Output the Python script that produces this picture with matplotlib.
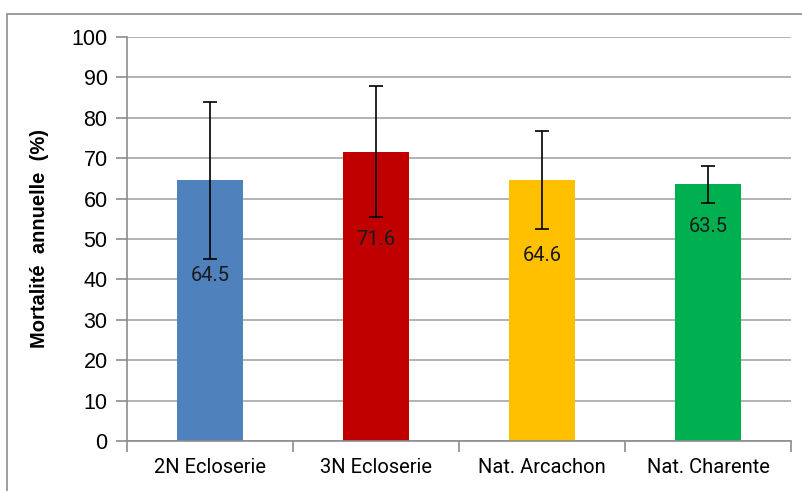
import matplotlib.pyplot as plt
from matplotlib.patches import Rectangle

# Values
categories = ["2N Ecloserie", "3N Ecloserie", "Nat. Arcachon", "Nat. Charente"]
mortality = [64.5, 71.6, 64.6, 63.5]
errors = [19.4, 16.2, 12.1, 4.6]
colors = ["#4f81bd", "#c00000", "#ffc000", "#00b050"]
label_pos = [41.0, 49.8, 46.0, 53.1]  # where the value labels sit

fig = plt.figure(figsize=(8.02, 4.91), dpi=100)
ax = fig.add_axes([127 / 802, 50 / 491, 664 / 802, 404 / 491])

# thin frame around the chart area
fig.patches.append(Rectangle((7 / 802, -0.1), 1.2, 0.1 + (491 - 14) / 491,
                             transform=fig.transFigure, fill=False,
                             edgecolor="#8c8c8c", linewidth=1.2))

x = range(len(categories))
ax.bar(x, mortality, width=0.4, color=colors, zorder=2)
ax.errorbar(x, mortality, yerr=errors, fmt="none", ecolor="black",
            elinewidth=1.2, capsize=5, capthick=1.2, zorder=3)

for i, (v, yp) in enumerate(zip(mortality, label_pos)):
    ax.text(i, yp, f"{v:.1f}", ha="center", va="center", fontsize=14.5,
            family="Roboto", color="#1a1a1a", zorder=4)

ax.set_xlim(-0.5, 3.5)
ax.set_ylim(0, 100)
ax.set_yticks(range(0, 101, 10))
ax.set_yticklabels([str(t) for t in range(0, 101, 10)],
                   family="Liberation Sans", fontsize=15.5)
ax.yaxis.grid(True, color="#a6a6a6", linewidth=1.2, zorder=0)
ax.set_axisbelow(True)

ax.set_xticks(list(x))
ax.set_xticklabels(categories, fontsize=14.5, family="Roboto")
ax.set_xticks([i - 0.5 for i in range(len(categories) + 1)], minor=True)
ax.tick_params(axis="x", which="major", length=0, pad=12)
ax.tick_params(axis="x", which="minor", length=8, color="#8c8c8c", width=1.2)
ax.tick_params(axis="y", length=8, color="#8c8c8c", width=1.2, pad=6)

for s in ["top", "right"]:
    ax.spines[s].set_visible(False)
for s in ["left", "bottom"]:
    ax.spines[s].set_color("#8c8c8c")
    ax.spines[s].set_linewidth(1.2)

ax.set_ylabel("Mortalité  annuelle  (%)", fontsize=14.5, fontweight="bold",
              family="Liberation Sans", labelpad=16)

fig.savefig("out.png", dpi=100)
